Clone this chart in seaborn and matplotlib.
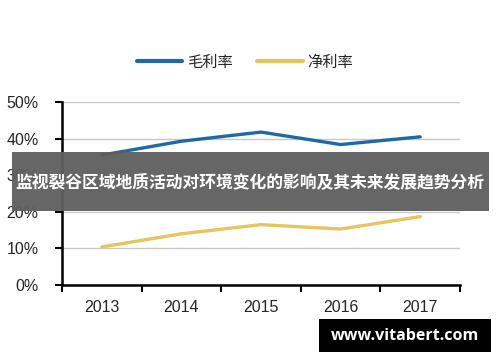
import pandas as pd
import matplotlib
matplotlib.use("Agg")
import matplotlib.pyplot as plt
import seaborn as sns
from matplotlib.ticker import PercentFormatter

years = ["2013", "2014", "2015", "2016", "2017"]
gross_margin = [35.5, 39.3, 41.8, 38.4, 40.5]
net_margin = [10.4, 14.0, 16.5, 15.3, 18.7]
series_names = ["毛利率", "净利率"]
series_colors = ["#1f6aa6", "#e5c65e"]
banner_text = "监视裂谷区域地质活动对环境变化的影响及其未来发展趋势分析"
watermark = "www.vitabert.com"

df = pd.DataFrame({
    "year": years * 2,
    "value": gross_margin + net_margin,
    "series": [series_names[0]] * len(years) + [series_names[1]] * len(years),
})
df["x"] = list(range(len(years))) * 2

sns.set_style("white")
plt.rcParams["font.family"] = ["Liberation Sans", "Noto Sans CJK SC", "DejaVu Sans"]

fig = plt.figure(figsize=(5, 3.62), dpi=100)
ax = fig.add_axes([0.124, 0.2127, 0.796, 0.5053])

sns.lineplot(data=df, x="x", y="value", hue="series", palette=series_colors,
             linewidth=2.4, ax=ax, legend=False)

ax.set_xlim(-0.5, len(years) - 0.5)
ax.set_ylim(0, 50)
ax.set_yticks(range(0, 51, 10))
ax.yaxis.set_major_formatter(PercentFormatter(decimals=0))
ax.set_xticks([i - 0.5 for i in range(len(years) + 1)])
ax.set_xticklabels([])
ax.set_xticks(range(len(years)), minor=True)
ax.set_xticklabels(years, minor=True)
ax.tick_params(axis="x", which="minor", bottom=False, length=0, pad=11, labelsize=11.5)
ax.tick_params(axis="x", which="major", bottom=True, direction="out", length=5, width=1.5, color="black")
ax.tick_params(axis="y", left=True, direction="out", length=5, width=1.5, color="black", labelsize=11.5, pad=12)
ax.set_xlabel("")
ax.set_ylabel("")
ax.grid(axis="y", color="#c8c8c8", linewidth=1)
ax.set_axisbelow(True)
for side in ["top", "right"]:
    ax.spines[side].set_visible(False)
for side in ["left", "bottom"]:
    ax.spines[side].set_color("black")
    ax.spines[side].set_linewidth(1.8)

# legend
handles = [plt.Line2D([], [], color=c, linewidth=3) for c in series_colors]
fig.legend(handles, series_names, loc="center", bbox_to_anchor=(0.49, 0.828), ncol=2,
           frameon=False, handlelength=3.0, columnspacing=1.6, handletextpad=0.3,
           prop={"family": ["Noto Sans CJK SC"], "size": 11})

# banner overlay
fig.patches.append(plt.Rectangle((12 / 500, 1 - 211 / 362), 477 / 500, 59 / 362,
                                 transform=fig.transFigure, facecolor="#5e5e5e",
                                 alpha=0.95, edgecolor="none", zorder=5))
fig.text(0.5, 1 - 183 / 362, banner_text, ha="center", va="center", color="white",
         fontsize=12.1, fontweight="bold", family=["Noto Sans CJK SC"], zorder=6)

# watermark
fig.patches.append(plt.Rectangle((319 / 500, 1 - 352 / 362), 172 / 500, 33 / 362,
                                 transform=fig.transFigure, facecolor="black",
                                 edgecolor="none", zorder=5))
fig.text(405 / 500, 1 - 336 / 362, watermark, ha="center", va="center", color="white",
         fontsize=11.5, fontweight="bold", family=["Open Sans", "DejaVu Sans"], zorder=6)

fig.savefig("out.png", dpi=100)
